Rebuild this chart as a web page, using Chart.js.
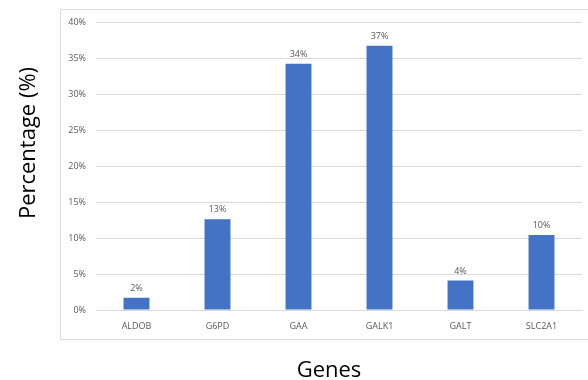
<!DOCTYPE html>
<html lang="en">
<head>
    <meta charset="UTF-8">
    <title>Genes Percentage</title>
    <script src="https://cdn.jsdelivr.net/npm/chart.js"></script>
    <style>
        * {
            margin: 0;
            padding: 0;
            box-sizing: border-box;
        }

        body {
            background: #ffffff;
        }

        .chart-box {
            width: 588px;
            height: 380px;
        }
    </style>
</head>
<body>
    <div class="chart-box">
        <canvas id="genesChart" width="588" height="380"></canvas>
    </div>
    <script>
        // Data
        const genes = ['ALDOB', 'G6PD', 'GAA', 'GALK1', 'GALT', 'SLC2A1'];
        const percentages = [1.7, 12.6, 34.2, 36.7, 4.1, 10.4];
        const yTicks = [0, 5, 10, 15, 20, 25, 30, 35, 40];
        const xTitle = 'Genes';
        const yTitle = 'Percentage (%)';

        const labelGray = '#595959';
        const gridGray = '#d9d9d9';
        const barBlue = '#4472c4';

        // light frame around the plot, like the office chart border
        const framePlugin = {
            id: 'frame',
            beforeDraw(chart) {
                const { ctx, chartArea } = chart;
                ctx.save();
                ctx.strokeStyle = gridGray;
                ctx.lineWidth = 1;
                ctx.strokeRect(chartArea.left - 35.5, chartArea.top - 12.5,
                    chart.width - chartArea.left + 40, chartArea.bottom - chartArea.top + 42);
                ctx.restore();
            }
        };

        // value labels over the bars
        const valueLabels = {
            id: 'valueLabels',
            afterDatasetsDraw(chart) {
                const { ctx } = chart;
                const meta = chart.getDatasetMeta(0);
                ctx.save();
                ctx.font = '9px "Open Sans"';
                ctx.fillStyle = labelGray;
                ctx.textAlign = 'center';
                ctx.textBaseline = 'bottom';
                meta.data.forEach((bar, i) => {
                    ctx.fillText(Math.round(percentages[i]) + '%', bar.x, bar.y - 5);
                });
                ctx.restore();
            }
        };

        // axis titles sit a bit off-centre in the original, so draw them by hand
        const axisTitles = {
            id: 'axisTitles',
            afterDraw(chart) {
                const { ctx, chartArea } = chart;
                ctx.save();
                ctx.font = '22px "Open Sans"';
                ctx.fillStyle = '#000000';
                ctx.textAlign = 'center';
                ctx.textBaseline = 'alphabetic';
                ctx.fillText(xTitle, chartArea.left + 233, chart.height - 3);

                ctx.translate(29, chartArea.top + 121);
                ctx.rotate(-Math.PI / 2);
                ctx.textBaseline = 'middle';
                ctx.fillText(yTitle, 0, 0);
                ctx.restore();
            }
        };

        const ctx = document.getElementById('genesChart').getContext('2d');

        new Chart(ctx, {
            type: 'bar',
            data: {
                labels: genes,
                datasets: [{
                    data: percentages,
                    backgroundColor: barBlue,
                    barPercentage: 0.32,
                    categoryPercentage: 1
                }]
            },
            options: {
                responsive: false,
                animation: false,
                layout: {
                    padding: { top: 22, right: 6, left: 0, bottom: 0 }
                },
                plugins: {
                    legend: { display: false },
                    tooltip: { enabled: false }
                },
                scales: {
                    x: {
                        grid: { display: false, drawTicks: false },
                        border: { color: gridGray },
                        ticks: {
                            color: labelGray,
                            font: { family: 'Open Sans', size: 9 },
                            padding: 11,
                            maxRotation: 0
                        },
                        afterFit(scale) {
                            scale.height = 70;
                        }
                    },
                    y: {
                        min: 0,
                        max: 40,
                        afterBuildTicks(scale) {
                            scale.ticks = yTicks.map(v => ({ value: v }));
                        },
                        grid: { color: gridGray, drawTicks: false },
                        border: { display: false },
                        ticks: {
                            color: labelGray,
                            font: { family: 'Open Sans', size: 9 },
                            padding: 10,
                            callback: v => v + '%'
                        },
                        afterFit(scale) {
                            scale.width = 96;
                        }
                    }
                }
            },
            plugins: [framePlugin, valueLabels, axisTitles]
        });
    </script>
</body>
</html>
